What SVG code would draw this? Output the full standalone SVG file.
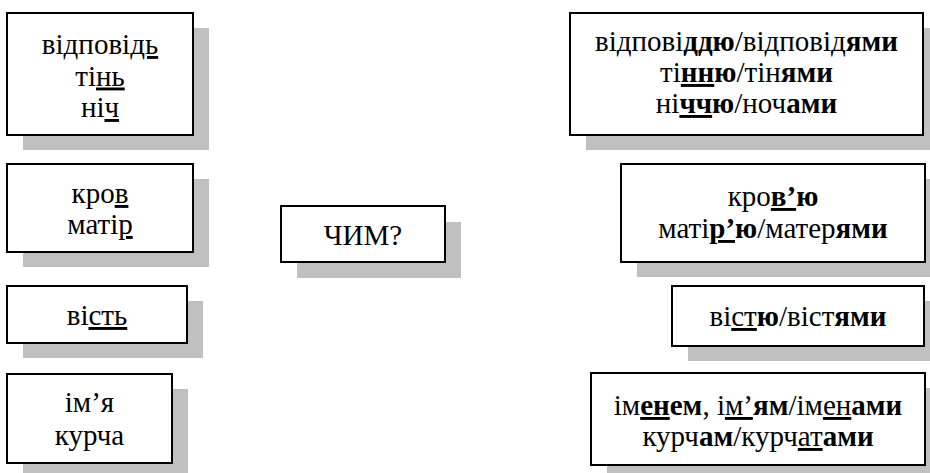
<svg xmlns="http://www.w3.org/2000/svg" width="930" height="473" viewBox="0 0 930 473">
<style>
.sh{fill:#c0c0c0;stroke:none}
.bx{fill:#fff;stroke:#000;stroke-width:2}
text{font-family:"Liberation Serif","Times New Roman",serif;font-size:29px;fill:#000;text-anchor:middle}
.b{font-weight:bold}
.u{text-decoration:underline}
.ub{font-weight:bold;text-decoration:underline;text-decoration-thickness:3px}
</style>
<rect width="930" height="473" fill="#fff"/>
<g id="n-vidpovid">
<rect class="sh" x="23" y="28" width="186" height="122"/>
<rect class="bx" x="7" y="13" width="186" height="122"/>
<text x="100" y="54">відпові<tspan class="u">дь</tspan></text>
<text x="100" y="85.5">ті<tspan class="u">нь</tspan></text>
<text x="100" y="117">ні<tspan class="u">ч</tspan></text>
</g>
<g id="n-krov">
<rect class="sh" x="23" y="179" width="186" height="88"/>
<rect class="bx" x="7" y="164" width="186" height="88"/>
<text x="100" y="203">кро<tspan class="u">в</tspan></text>
<text x="100" y="234">маті<tspan class="u">р</tspan></text>
</g>
<g id="n-vist">
<rect class="sh" x="23" y="301" width="180" height="57"/>
<rect class="bx" x="7" y="286" width="180" height="57"/>
<text x="97" y="325">ві<tspan class="u">сть</tspan></text>
</g>
<g id="n-imia">
<rect class="sh" x="23" y="389" width="165" height="89"/>
<rect class="bx" x="7" y="374" width="165" height="89"/>
<text x="89.5" y="412">ім’я</text>
<text x="89.5" y="445">курча</text>
</g>
<g id="n-chym">
<rect class="sh" x="297" y="222" width="164" height="56"/>
<rect class="bx" x="281" y="206" width="164" height="56"/>
<text x="363" y="245">ЧИМ?</text>
</g>
<g id="r-vidpovid">
<rect class="sh" x="586" y="28" width="353" height="122"/>
<rect class="bx" x="570" y="13" width="353" height="122"/>
<text x="746.5" y="51">відпові<tspan class="ub">дд</tspan><tspan class="b">ю</tspan>/відповід<tspan class="b">ями</tspan></text>
<text x="746.5" y="82">ті<tspan class="ub">нн</tspan><tspan class="b">ю</tspan>/тін<tspan class="b">ями</tspan></text>
<text x="746.5" y="113">ні<tspan class="ub">чч</tspan><tspan class="b">ю</tspan>/ноч<tspan class="b">ами</tspan></text>
</g>
<g id="r-krov">
<rect class="sh" x="637" y="179" width="304" height="98"/>
<rect class="bx" x="621" y="164" width="304" height="98"/>
<text x="773" y="206">кро<tspan class="ub">в’</tspan><tspan class="b">ю</tspan></text>
<text x="773" y="238">маті<tspan class="ub">р’</tspan><tspan class="b">ю</tspan>/матер<tspan class="b">ями</tspan></text>
</g>
<g id="r-vist">
<rect class="sh" x="688" y="301" width="252" height="60"/>
<rect class="bx" x="672" y="286" width="252" height="60"/>
<text x="798" y="326">ві<tspan class="u">ст</tspan><tspan class="b">ю</tspan>/віст<tspan class="b">ями</tspan></text>
</g>
<g id="r-imia">
<rect class="sh" x="607" y="388" width="334" height="92"/>
<rect class="bx" x="591" y="373" width="334" height="92"/>
<text x="758" y="415">ім<tspan class="ub">ен</tspan><tspan class="b">ем</tspan>, і<tspan class="u">м’</tspan><tspan class="b">ям</tspan>/ім<tspan class="u">ен</tspan><tspan class="b">ами</tspan></text>
<text x="758" y="446">курч<tspan class="b">ам</tspan>/курч<tspan class="u">ат</tspan><tspan class="b">ами</tspan></text>
</g>
</svg>
